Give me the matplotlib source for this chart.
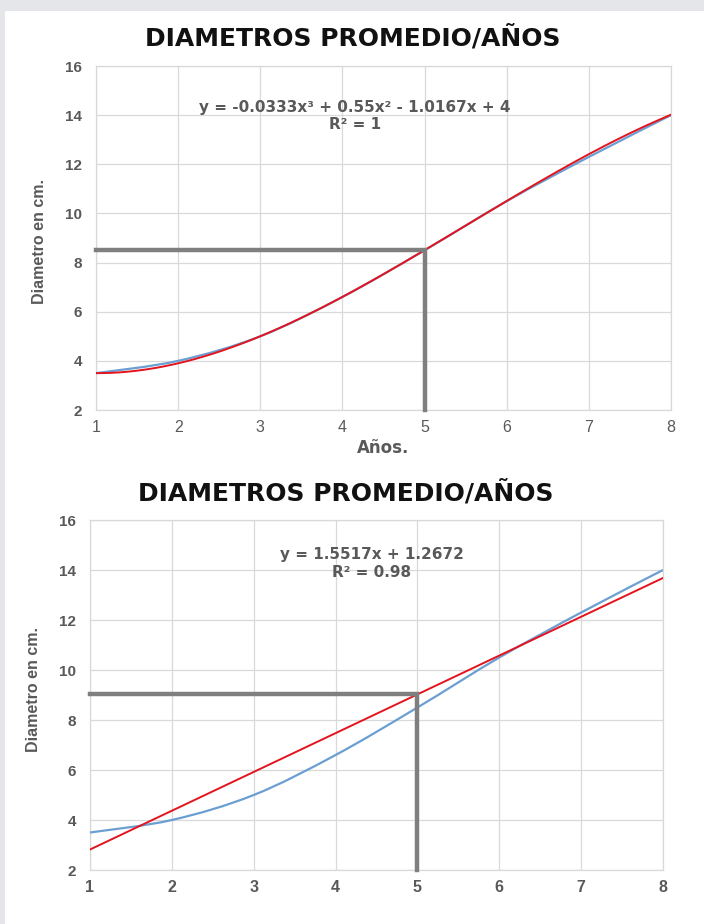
import numpy as np
import matplotlib
matplotlib.use("Agg")
import matplotlib.pyplot as plt
from matplotlib.path import Path
from matplotlib.patches import PathPatch, Rectangle

# ---- data ----
years = [1, 2, 3, 4, 5, 6, 7, 8]
diametro = [3.5, 4.0, 5.0, 6.6, 8.5, 10.5, 12.3, 14.0]
cubic_coef = [-0.0333, 0.55, -1.0167, 4.0]     # trend line, top chart
linear_coef = [1.5517, 1.2672]                  # trend line, bottom chart
eq_top = ["y = -0.0333x³ + 0.55x² - 1.0167x + 4", "R² = 1"]
eq_bot = ["y = 1.5517x + 1.2672", "R² = 0.98"]
year_mark = 5
title = "DIAMETROS PROMEDIO/AÑOS"
ylabel = "Diametro en cm."
xlabel = "Años."
xticks = [1, 2, 3, 4, 5, 6, 7, 8]
yticks = [2, 4, 6, 8, 10, 12, 14, 16]

BLUE = "#6b9fd2"
RED = "#e3141e"
GRID = "#d9d9d9"
MARK = "#7f7f7f"
TICK = "#595959"

plt.rcParams['font.family'] = ['Liberation Sans', 'DejaVu Sans']
WIDE = ['DejaVu Sans']

W, H = 704, 924
fig = plt.figure(figsize=(W / 100, H / 100), dpi=100)
fig.patch.set_facecolor("#e5e6e9")
fig.patches.append(Rectangle((5 / W, 0), 1 - 5 / W, 1 - 11 / H, transform=fig.transFigure,
                             facecolor="white", edgecolor="none", zorder=-5))


def smooth_path(xs, ys):
    # Catmull-Rom style Bezier smoothing (rendering of Excel's smoothed line)
    xs = np.asarray(xs, float)
    ys = np.asarray(ys, float)
    n = len(xs)
    verts = [(xs[0], ys[0])]
    codes = [Path.MOVETO]
    t = 1 / 6.0
    for i in range(n - 1):
        p0 = np.array([xs[max(i - 1, 0)], ys[max(i - 1, 0)]])
        p1 = np.array([xs[i], ys[i]])
        p2 = np.array([xs[i + 1], ys[i + 1]])
        p3 = np.array([xs[min(i + 2, n - 1)], ys[min(i + 2, n - 1)]])
        c1 = p1 + (p2 - p0) * t
        c2 = p2 - (p3 - p1) * t
        verts += [tuple(c1), tuple(c2), tuple(p2)]
        codes += [Path.CURVE4] * 3
    return Path(verts, codes)


def setup(ax, bold_x):
    ax.set_xlim(1, 8)
    ax.set_ylim(2, 16)
    ax.set_xticks(xticks)
    ax.set_yticks(yticks)
    ax.grid(True, color=GRID, linewidth=0.9)
    ax.set_axisbelow(True)
    for s in ax.spines.values():
        s.set_color(GRID)
        s.set_linewidth(0.9)
    ax.tick_params(length=0)
    ax.tick_params(axis='y', pad=10, labelsize=11, labelcolor=TICK)
    ax.tick_params(axis='x', pad=7, labelsize=11.5, labelcolor=TICK)
    for lb in ax.get_yticklabels():
        lb.set_fontweight('bold')
    for lb in ax.get_xticklabels():
        lb.set_fontweight('bold' if bold_x else 'normal')


xx = np.linspace(1, 8, 300)

# ---- top chart ----
ax1 = fig.add_axes([96 / W, 1 - 410 / H, 575 / W, 344 / H])
setup(ax1, False)
ax1.add_patch(PathPatch(smooth_path(years, diametro), facecolor='none', edgecolor=BLUE,
                        linewidth=1.6, zorder=3))
ax1.plot(xx, np.polyval(cubic_coef, xx), color=RED, linewidth=1.4, zorder=4)
ym1 = diametro[years.index(year_mark)]
ax1.plot([1, year_mark, year_mark], [ym1, ym1, 2], color=MARK, linewidth=3.2,
         solid_joinstyle='miter', zorder=5, clip_on=False)
ax1.text(4.15, 14.3, eq_top[0], ha='center', va='center', fontsize=11, fontweight='bold',
         color=TICK, family=WIDE)
ax1.text(4.15, 13.6, eq_top[1], ha='center', va='center', fontsize=11, fontweight='bold',
         color=TICK, family=WIDE)
fig.text(353 / W, 1 - 38 / H, title, ha='center', va='center', fontsize=18, fontweight='bold',
         color='#111111', family=WIDE)
fig.text(40 / W, 1 - 241 / H, ylabel, ha='center', va='center', rotation=90, fontsize=11.5,
         fontweight='bold', color=TICK)
fig.text(383 / W, 1 - 448 / H, xlabel, ha='center', va='center', fontsize=12,
         fontweight='bold', color=TICK, family=WIDE)

# ---- bottom chart ----
ax2 = fig.add_axes([90 / W, 1 - 870 / H, 573 / W, 350 / H])
setup(ax2, True)
ax2.add_patch(PathPatch(smooth_path(years, diametro), facecolor='none', edgecolor=BLUE,
                        linewidth=1.6, zorder=3))
ax2.plot(xx, np.polyval(linear_coef, xx), color=RED, linewidth=1.4, zorder=4)
ym2 = np.polyval(linear_coef, year_mark)
ax2.plot([1, year_mark, year_mark], [ym2, ym2, 2], color=MARK, linewidth=3.2,
         solid_joinstyle='miter', zorder=5, clip_on=False)
ax2.text(4.44, 14.6, eq_bot[0], ha='center', va='center', fontsize=11, fontweight='bold',
         color=TICK, family=WIDE)
ax2.text(4.44, 13.9, eq_bot[1], ha='center', va='center', fontsize=11, fontweight='bold',
         color=TICK, family=WIDE)
fig.text(346 / W, 1 - 493 / H, title, ha='center', va='center', fontsize=18, fontweight='bold',
         color='#111111', family=WIDE)
fig.text(34 / W, 1 - 690 / H, ylabel, ha='center', va='center', rotation=90, fontsize=11.5,
         fontweight='bold', color=TICK)

fig.savefig("out.png", dpi=100, facecolor=fig.get_facecolor())
